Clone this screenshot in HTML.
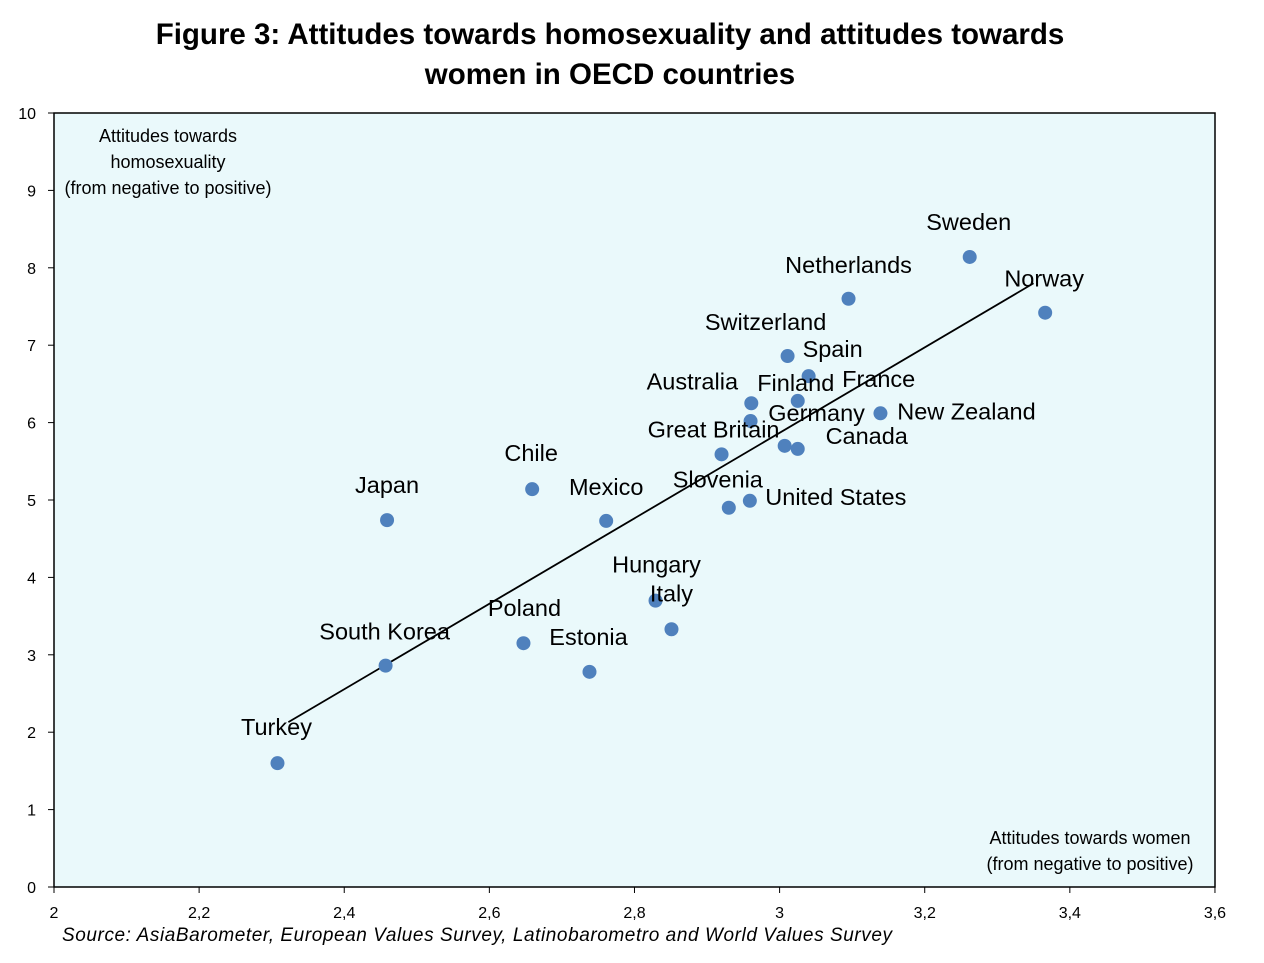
<!DOCTYPE html>
<html><head><meta charset="utf-8"><style>
body{margin:0;background:#fff;width:1264px;height:958px;overflow:hidden}
text{font-family:"Liberation Sans",sans-serif}
</style></head><body>
<svg id="chart" width="1264" height="958" xmlns="http://www.w3.org/2000/svg">
<text x="610" y="44" text-anchor="middle" font-size="29.5" font-weight="bold">Figure 3: Attitudes towards homosexuality and attitudes towards</text>
<text x="610" y="84" text-anchor="middle" font-size="29.5" font-weight="bold">women in OECD countries</text>
<rect x="54" y="113" width="1161" height="774" fill="#eaf9fb" stroke="#000" stroke-width="1.5"/>
<g id="axes"></g>
<g id="marks"></g>
<text font-size="18" text-anchor="middle"><tspan x="168" y="142">Attitudes  towards</tspan><tspan x="168" y="168">homosexuality</tspan><tspan x="168" y="194">(from negative to positive)</tspan></text>
<text font-size="18" text-anchor="middle"><tspan x="1090" y="844">Attitudes  towards women</tspan><tspan x="1090" y="870">(from negative to positive)</tspan></text>
<text x="62" y="941" font-size="19" font-style="italic" textLength="830" lengthAdjust="spacing">Source: AsiaBarometer, European Values Survey, Latinobarometro  and World Values Survey</text>
</svg>
<script>
const countries=["Sweden","Netherlands","Norway","Switzerland","Spain","Australia","Finland","Germany","New Zealand","France","Canada","Great Britain","Chile","Japan","Mexico","Slovenia","United States","Hungary","Italy","Poland","South Korea","Estonia","Turkey"];
const womenValues=[3.262,3.095,3.366,3.011,3.040,2.961,3.025,2.960,3.139,3.007,3.025,2.920,2.659,2.459,2.761,2.930,2.959,2.829,2.851,2.647,2.457,2.738,2.308];
const homoValues=[8.14,7.60,7.42,6.86,6.60,6.25,6.28,6.02,6.12,5.70,5.66,5.59,5.14,4.74,4.73,4.90,4.99,3.70,3.33,3.15,2.86,2.78,1.60];
const trendX=[2.323,3.350];
const trendY=[2.13,7.80];
const xTicks=[2,2.2,2.4,2.6,2.8,3,3.2,3.4,3.6];
const xTickLabels=["2","2,2","2,4","2,6","2,8","3","3,2","3,4","3,6"];
const yTicks=[0,1,2,3,4,5,6,7,8,9,10];
const labelDx=[-1,0,-1,-22,24,-59,-2,66,86,94,69,-8,-1,0,0,-11,86,1,0,1,-1,-1,-1];
const labelDy=[-35,-34,-34,-34,-27,-22,-18,-8,-2,-67,-13,-25,-36,-35,-34,-28,-4,-36,-36,-35,-34,-35,-36];
const X=v=>54+(v-2)*725.6, Y=v=>887-v*77.4;
const NS="http://www.w3.org/2000/svg";
const ax=document.getElementById('axes'), mk=document.getElementById('marks');
function el(t,a,p){const e=document.createElementNS(NS,t);for(const k in a)e.setAttribute(k,a[k]);p.appendChild(e);return e;}
xTicks.forEach((v,i)=>{
 const t=el('text',{x:X(v),y:918,'font-size':16,'text-anchor':'middle'},ax);t.textContent=xTickLabels[i];
 
 
 const k=el('line',{x1:X(v),x2:X(v),y1:887,y2:893,stroke:'#000'},ax);
 
 
});
yTicks.forEach(v=>{
 const t=el('text',{x:36,y:Y(v)+6,'font-size':16,'text-anchor':'end'},ax);t.textContent=v;
 
 
 const k=el('line',{x1:48,x2:54,y1:Y(v),y2:Y(v),stroke:'#000'},ax);
 
 
});
const tl=el('line',{x1:X(trendX[0]),y1:Y(trendY[0]),x2:X(trendX[1]),y2:Y(trendY[1]),stroke:'#000','stroke-width':1.8},mk);


countries.forEach((c,i)=>{
 const px=X(womenValues[i]),py=Y(homoValues[i]);
 const d=el('circle',{cx:px,cy:py,r:7,fill:'#4f81bd'},mk);
 
 
});
countries.forEach((c,i)=>{
 const px=X(womenValues[i]),py=Y(homoValues[i]);
 const t=el('text',{x:px+labelDx[i],y:py+labelDy[i]+8,'font-size':23.5,'text-anchor':'middle'},mk);
 t.textContent=c;
 
 
});
</script>
</body></html>
